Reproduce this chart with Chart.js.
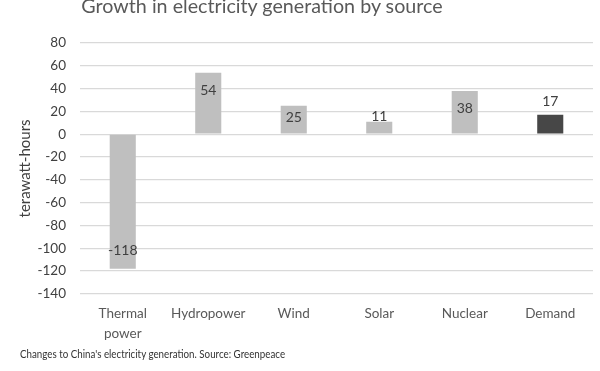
<!DOCTYPE html>
<html>
<head>
<meta charset="utf-8">
<script src="https://cdn.jsdelivr.net/npm/chart.js@4.4.1/dist/chart.umd.min.js"></script>
<style>
  html, body { margin: 0; padding: 0; background: #fff; }
  #wrap { position: relative; width: 600px; height: 371px; overflow: hidden; }
  #title { position: absolute; left: 0; width: 524px; top: -6px; text-align: center;
           font-family: Lato, sans-serif; font-size: 19.7px; color: #595959; white-space: nowrap; }
  #caption { position: absolute; left: 20px; top: 347px; font-family: Lato, sans-serif;
             font-size: 11.5px; color: #333; white-space: nowrap;
             transform: scaleX(0.85); transform-origin: left top; }
  canvas { position: absolute; left: 0; top: 0; }
</style>
</head>
<body>
<div id="wrap">
  <canvas id="c" width="600" height="371"></canvas>
  <div id="title">Growth in electricity generation by source</div>
  <div id="caption">Changes to China's electricity generation. Source: Greenpeace</div>
</div>
<script>
const categories = [["Thermal", "power"], "Hydropower", "Wind", "Solar", "Nuclear", "Demand"];
const generationValues = [-118, 54, 25, 11, 38, null];
const demandValues = [null, null, null, null, null, 17];
const yTickMin = -140;
const yTickMax = 80;
const yTickStep = 20;
const yAxisTitle = "terawatt-hours";

const valueLabels = {
  id: 'valueLabels',
  afterDatasetsDraw(chart) {
    const ctx = chart.ctx;
    ctx.save();
    ctx.font = '14px Lato, sans-serif';
    ctx.fillStyle = '#404040';
    ctx.textAlign = 'center';
    ctx.textBaseline = 'middle';
    chart.data.datasets.forEach((ds, di) => {
      const meta = chart.getDatasetMeta(di);
      meta.data.forEach((bar, i) => {
        const v = ds.data[i];
        if (v === null || v === undefined) return;
        const h = Math.abs(bar.base - bar.y);
        const up = v >= 0;
        let cy;
        if (di === 1) {
          cy = bar.y - 13;
        } else if (h < 20) {
          cy = bar.y - 5;
        } else {
          const off = Math.min(18, h / 2 - 2);
          cy = up ? bar.y + off : bar.y - off;
        }
        ctx.fillText(String(v), bar.x, cy);
      });
    });
    ctx.restore();
  }
};

new Chart(document.getElementById('c'), {
  type: 'bar',
  data: {
    labels: categories,
    datasets: [
      { label: 'Generation', data: generationValues, backgroundColor: '#bfbfbf',
        barPercentage: 0.305, categoryPercentage: 1 },
      { label: 'Demand', data: demandValues, backgroundColor: '#474747',
        barPercentage: 0.305, categoryPercentage: 1 }
    ]
  },
  options: {
    responsive: false,
    animation: false,
    layout: { padding: { left: 16, right: 7, top: 43, bottom: 18 } },
    plugins: {
      legend: { display: false },
      tooltip: { enabled: false },
      title: { display: false }
    },
    scales: {
      x: {
        stacked: true,
        grid: { display: false, drawTicks: false },
        border: { display: false },
        ticks: { color: '#595959', font: { family: 'Lato, sans-serif', size: 13.5, lineHeight: 1.45 }, padding: 10, maxRotation: 0 }
      },
      y: {
        stacked: true,
        min: yTickMin,
        max: yTickMax,
        afterFit: (s) => { s.width = 64; },
        grid: { color: '#d9d9d9', lineWidth: 1.2, drawTicks: false },
        border: { display: false },
        ticks: { stepSize: yTickStep, color: '#404040', font: { family: 'Lato, sans-serif', size: 13.5 }, padding: 14 },
        title: { display: true, text: yAxisTitle, color: '#404040', font: { family: 'Lato, sans-serif', size: 15 }, padding: { top: 0, bottom: 4 } }
      }
    }
  },
  plugins: [valueLabels]
});
</script>
</body>
</html>
